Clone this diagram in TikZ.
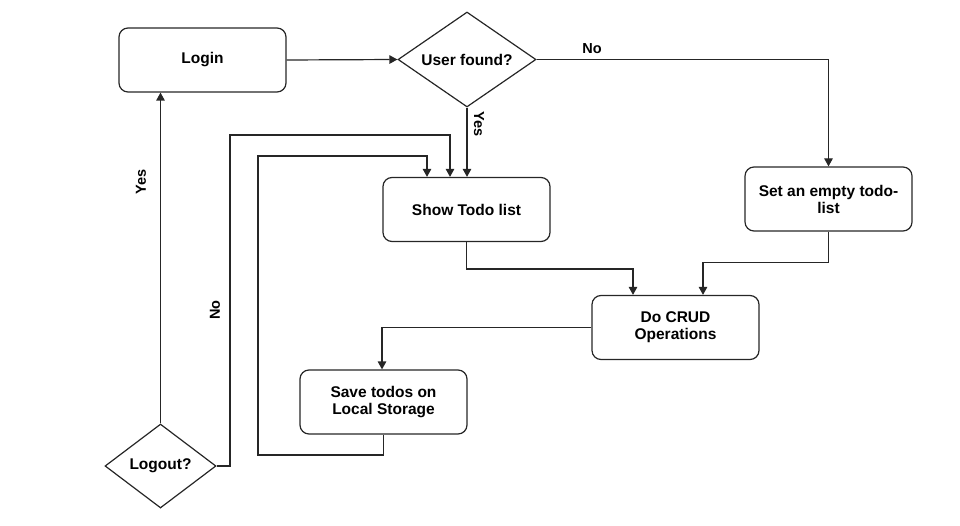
\documentclass[tikz,border=0pt]{standalone}
\usepackage{fontspec}
\setmainfont{Liberation Sans}
\usetikzlibrary{shapes.geometric,arrows.meta}
\begin{document}
\begin{tikzpicture}[x=1pt,y=-1pt,
  line width=1.2pt,
  box/.style={draw=black!85, rounded corners=9pt, minimum width=167pt, minimum height=64pt, align=center, font=\bfseries\fontsize{15.5}{17}\selectfont, inner sep=0pt},
  dec/.style={draw=black!85, shape=diamond, inner sep=0pt},
  dtext/.style={font=\bfseries\fontsize{15.5}{17}\selectfont},
  arr/.style={draw=black!85, -{Triangle[length=8pt,width=8.5pt]}},
  lab/.style={font=\bfseries\fontsize{14.5}{16}\selectfont}
]
\useasboundingbox (0,0) rectangle (960,526);
\node[box] (login) at (202.5,60) {Login};
\node[dec, minimum width=138pt, minimum height=95pt] (uf) at (467,59.5) {};
\node[dtext] (uft) at (467,59.5) {User found?};
\node[box] (show) at (466.5,209.5) {Show Todo list};
\node[box] (set) at (828.5,199) {Set an empty todo-\\list};
\node[box] (crud) at (675.5,327.5) {Do CRUD\\Operations};
\node[box] (save) at (383.5,402) {Save todos on\\Local Storage};
\node[dec, minimum width=111pt, minimum height=84pt] (lo) at (160.5,466) {};
\node[dtext] (lot) at (160.5,466) {Logout?};

\coordinate (a1) at (258,455);
\coordinate (a2) at (258,156);
\coordinate (b1) at (230,135);

\draw[arr] (login.east) -- (uf.west);
\draw[arr] (uf.east) -| (set.north);
\draw[arr] (uf.south) -- (uf.south |- show.north);
\draw[arr] (show.south) -- ++(0,27) -| ([xshift=-42.5pt]crud.north);
\draw[arr] (set.south) -- ++(0,31) -| ([xshift=27.5pt]crud.north);
\draw[arr] (crud.west) -| ([xshift=-1.5pt]save.north);
\draw[arr] (save.south) |- (a1) -- (a2) -| ([xshift=-39.5pt]show.north);
\draw[arr] (lo.east) -| (b1) -| ([xshift=-16.5pt]show.north);
\draw[arr] (lo.north) -- (lo.north |- login.south);

\node[lab] (l1) at (592,48.5) {No};
\node[lab, rotate=-90] (l2) at (479,124.5) {Yes};
\node[lab, rotate=90] (l3) at (215,310) {No};
\node[lab, rotate=90] (l4) at (141,182) {Yes};
\end{tikzpicture}
\end{document}
